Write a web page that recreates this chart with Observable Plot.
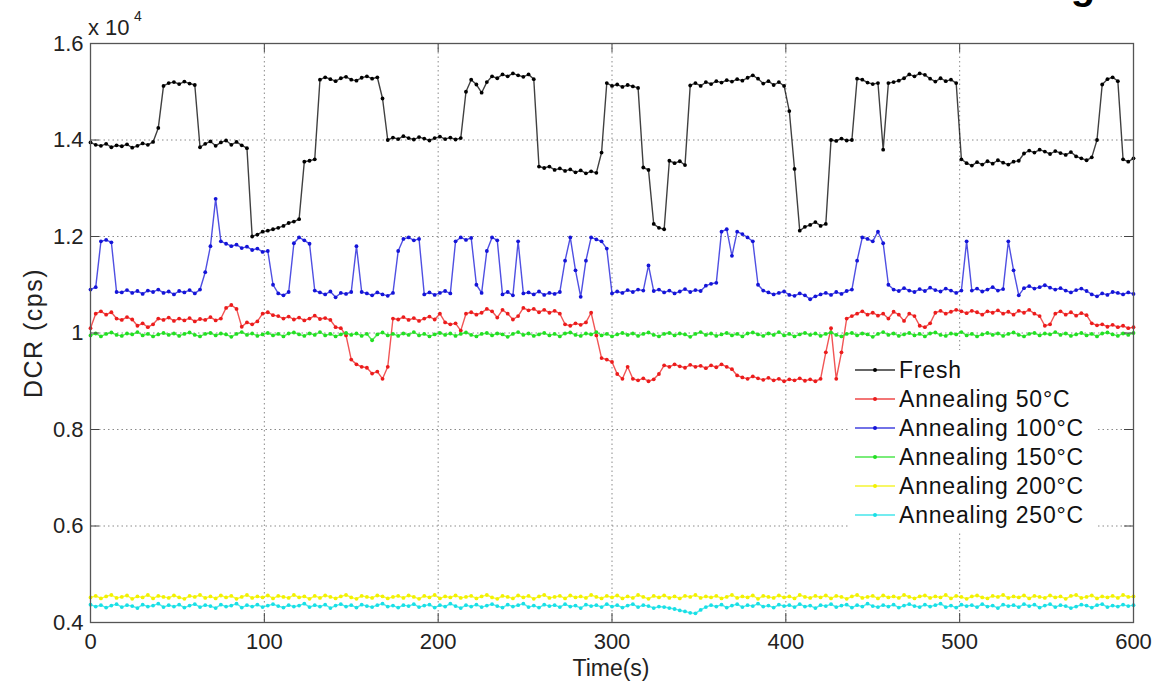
<!DOCTYPE html>
<html><head><meta charset="utf-8">
<script src="https://cdn.jsdelivr.net/npm/d3@7"></script>
<script src="https://cdn.jsdelivr.net/npm/@observablehq/plot@0.6"></script>
<style>
html,body{margin:0;padding:0;background:#fff;}
#chart{position:relative;width:1176px;height:684px;overflow:hidden;font-family:"Liberation Sans",Arial,sans-serif;}
</style></head><body><div id="chart"></div>
<script>
const seriesNames = ["Fresh","Annealing 50°C","Annealing 100°C","Annealing 150°C","Annealing 200°C","Annealing 250°C"];
const seriesColors = ["#000000","#ec1c1c","#1414d8","#22e022","#f2f200","#18e0e6"];
const times = d3.range(0, 601, 3); // sampling instants (s)

// DCR values in units of 10^4 cps, one value per sampling instant
const fresh = [
1.395,1.390,1.388,1.392,1.385,1.389,1.387,1.391,1.384,1.388,
1.393,1.390,1.396,1.425,1.512,1.518,1.520,1.516,1.521,1.517,
1.514,1.385,1.392,1.397,1.388,1.395,1.399,1.390,1.396,1.389,
1.383,1.200,1.204,1.210,1.212,1.215,1.218,1.222,1.228,1.231,
1.236,1.355,1.357,1.360,1.525,1.530,1.526,1.522,1.528,1.531,
1.525,1.523,1.529,1.532,1.527,1.530,1.486,1.400,1.405,1.402,
1.408,1.404,1.401,1.406,1.403,1.399,1.404,1.407,1.402,1.405,
1.401,1.404,1.500,1.525,1.515,1.498,1.520,1.532,1.528,1.536,
1.532,1.538,1.534,1.531,1.536,1.526,1.345,1.342,1.345,1.338,
1.341,1.336,1.339,1.333,1.337,1.331,1.335,1.332,1.374,1.518,
1.512,1.515,1.510,1.514,1.511,1.508,1.343,1.338,1.226,1.218,
1.215,1.357,1.352,1.356,1.348,1.513,1.518,1.512,1.520,1.516,
1.522,1.519,1.524,1.521,1.526,1.523,1.529,1.534,1.527,1.517,
1.522,1.514,1.520,1.512,1.460,1.340,1.212,1.220,1.224,1.230,
1.222,1.226,1.400,1.398,1.403,1.399,1.400,1.527,1.525,1.519,
1.516,1.518,1.380,1.518,1.520,1.523,1.528,1.536,1.532,1.538,
1.535,1.527,1.521,1.528,1.522,1.525,1.518,1.360,1.352,1.347,
1.354,1.349,1.356,1.351,1.358,1.353,1.349,1.355,1.357,1.372,
1.378,1.374,1.380,1.376,1.371,1.377,1.373,1.369,1.375,1.366,
1.362,1.358,1.364,1.400,1.515,1.526,1.530,1.522,1.360,1.355,
1.362];

const ann50 = [
1.010,1.040,1.045,1.038,1.043,1.030,1.027,1.033,1.028,1.015,
1.020,1.012,1.018,1.030,1.027,1.032,1.025,1.030,1.026,1.031,
1.024,1.029,1.027,1.033,1.026,1.030,1.052,1.058,1.050,1.013,
1.022,1.018,1.024,1.040,1.043,1.037,1.035,1.030,1.034,1.028,
1.032,1.026,1.030,1.036,1.029,1.031,1.027,1.012,1.010,0.995,
0.945,0.935,0.930,0.928,0.916,0.920,0.905,0.930,1.030,1.028,
1.033,1.027,1.031,1.025,1.030,1.034,1.028,1.040,1.022,1.018,
1.020,1.005,1.040,1.043,1.038,1.042,1.050,1.045,1.032,1.048,
1.040,1.028,1.035,1.052,1.047,1.050,1.043,1.048,1.042,1.046,
1.040,1.018,1.015,1.020,1.017,1.022,1.042,0.995,0.948,0.945,
0.940,0.915,0.905,0.930,0.905,0.902,0.906,0.900,0.904,0.915,
0.933,0.930,0.935,0.931,0.928,0.934,0.930,0.932,0.927,0.933,
0.929,0.935,0.930,0.925,0.912,0.908,0.905,0.910,0.906,0.903,
0.907,0.902,0.905,0.900,0.904,0.902,0.906,0.901,0.904,0.900,
0.905,0.960,1.010,0.905,0.960,1.030,1.035,1.040,1.045,1.038,
1.042,1.036,1.040,1.030,1.044,1.038,1.025,1.040,1.035,1.015,
1.012,1.020,1.042,1.046,1.040,1.044,1.048,1.045,1.041,1.046,
1.043,1.038,1.045,1.042,1.047,1.040,1.044,1.038,1.046,1.042,
1.048,1.040,1.035,1.015,1.018,1.040,1.045,1.038,1.043,1.036,
1.041,1.037,1.020,1.016,1.018,1.013,1.017,1.012,1.015,1.010,
1.012];

const ann100 = [
1.090,1.095,1.190,1.193,1.188,1.085,1.084,1.089,1.083,1.087,
1.081,1.088,1.085,1.090,1.083,1.086,1.080,1.087,1.084,1.089,
1.082,1.090,1.126,1.180,1.278,1.190,1.185,1.180,1.183,1.176,
1.179,1.172,1.175,1.168,1.170,1.100,1.082,1.078,1.085,1.186,
1.198,1.192,1.185,1.088,1.084,1.080,1.086,1.074,1.083,1.081,
1.085,1.180,1.085,1.082,1.078,1.084,1.080,1.077,1.083,1.170,
1.195,1.198,1.192,1.195,1.080,1.084,1.079,1.083,1.087,1.082,
1.190,1.198,1.193,1.197,1.100,1.083,1.170,1.198,1.192,1.080,
1.085,1.078,1.190,1.082,1.084,1.080,1.086,1.079,1.083,1.081,
1.085,1.150,1.198,1.130,1.075,1.150,1.198,1.194,1.190,1.175,
1.082,1.086,1.083,1.089,1.085,1.090,1.088,1.140,1.087,1.090,
1.084,1.088,1.082,1.086,1.091,1.085,1.089,1.087,1.098,1.102,
1.104,1.210,1.215,1.160,1.210,1.205,1.198,1.190,1.100,1.088,
1.084,1.080,1.083,1.086,1.079,1.077,1.082,1.078,1.070,1.076,
1.080,1.083,1.079,1.085,1.081,1.087,1.090,1.150,1.198,1.195,
1.190,1.210,1.186,1.100,1.090,1.087,1.093,1.088,1.085,1.091,
1.087,1.094,1.089,1.086,1.092,1.088,1.083,1.088,1.190,1.088,
1.092,1.086,1.090,1.095,1.088,1.091,1.190,1.130,1.078,1.093,
1.097,1.092,1.095,1.099,1.094,1.090,1.093,1.088,1.084,1.089,
1.092,1.087,1.080,1.076,1.082,1.079,1.085,1.083,1.080,1.084,
1.081];

const ann150 = [
0.995,0.999,0.993,0.998,1.001,0.996,0.994,0.999,0.997,1.002,0.995,0.998,0.993,0.997,1.000,0.996,0.999,0.994,0.998,1.001,
0.996,0.993,0.998,1.000,0.995,0.999,0.997,0.992,0.998,1.002,0.996,0.999,0.994,0.997,1.000,0.995,0.998,0.993,0.999,1.001,
0.997,0.994,0.999,0.996,1.002,0.995,0.998,0.993,0.997,1.000,0.996,0.999,0.994,0.998,0.985,0.997,1.001,0.995,0.998,0.994,
0.999,0.996,1.002,0.995,0.998,0.993,0.997,1.000,0.996,0.999,0.994,0.998,1.001,0.996,0.993,0.998,1.000,0.995,0.999,0.997,
0.992,0.998,1.002,0.996,0.999,0.994,0.997,1.000,0.995,0.998,0.993,0.999,1.001,0.996,0.994,0.999,0.997,1.002,0.995,0.998,
0.993,0.997,1.000,0.996,0.999,0.994,0.998,1.001,0.996,0.993,0.998,1.000,0.995,0.999,0.997,0.992,0.998,1.002,0.996,0.999,
0.994,0.997,1.000,0.995,0.998,0.993,0.999,1.001,0.997,0.994,0.999,0.996,1.002,0.995,0.998,0.993,0.997,1.000,0.996,0.999,
0.994,0.998,1.001,0.996,0.993,0.998,1.000,0.995,0.999,0.997,0.992,0.998,1.002,0.996,0.999,0.994,0.997,1.000,0.995,0.998,
0.993,0.999,1.001,0.996,0.994,0.999,0.997,1.002,0.995,0.998,0.993,0.997,1.000,0.996,0.999,0.994,0.998,1.001,0.996,0.993,
0.998,1.000,0.995,0.999,0.997,1.002,0.996,0.999,0.994,0.997,1.000,0.995,0.998,0.993,0.999,1.001,0.997,0.994,0.999,0.996,
1.000];

const ann200 = [
0.452,0.455,0.450,0.454,0.457,0.451,0.453,0.456,0.449,0.454,0.452,0.457,0.450,0.455,0.453,0.451,0.456,0.452,0.449,0.455,
0.453,0.457,0.451,0.454,0.450,0.456,0.452,0.455,0.449,0.453,0.457,0.451,0.454,0.452,0.456,0.450,0.455,0.453,0.451,0.457,
0.452,0.454,0.449,0.455,0.451,0.456,0.453,0.450,0.454,0.457,0.452,0.449,0.455,0.453,0.451,0.456,0.454,0.450,0.453,0.455,
0.451,0.456,0.453,0.449,0.455,0.452,0.457,0.450,0.454,0.452,0.456,0.451,0.453,0.455,0.450,0.454,0.457,0.452,0.449,0.455,
0.453,0.450,0.456,0.452,0.455,0.449,0.454,0.457,0.451,0.453,0.455,0.450,0.456,0.452,0.454,0.451,0.457,0.453,0.450,0.455,
0.452,0.456,0.450,0.454,0.451,0.457,0.453,0.449,0.455,0.452,0.456,0.451,0.454,0.450,0.455,0.453,0.457,0.451,0.454,0.452,
0.455,0.450,0.453,0.457,0.451,0.454,0.452,0.456,0.449,0.455,0.453,0.451,0.456,0.452,0.454,0.450,0.457,0.453,0.451,0.455,
0.452,0.456,0.450,0.455,0.453,0.449,0.454,0.457,0.451,0.453,0.455,0.450,0.456,0.452,0.454,0.451,0.457,0.453,0.450,0.454,
0.456,0.451,0.454,0.452,0.457,0.450,0.455,0.453,0.449,0.454,0.456,0.452,0.450,0.455,0.453,0.457,0.451,0.454,0.452,0.456,
0.450,0.455,0.453,0.451,0.456,0.452,0.454,0.449,0.455,0.457,0.451,0.453,0.456,0.450,0.454,0.452,0.455,0.451,0.457,0.453,
0.454];

const ann250 = [
0.437,0.433,0.436,0.431,0.435,0.438,0.432,0.436,0.434,0.430,0.437,0.433,0.435,0.439,0.432,0.436,0.433,0.437,0.431,0.435,
0.438,0.432,0.436,0.434,0.430,0.437,0.433,0.435,0.439,0.431,0.436,0.433,0.437,0.432,0.435,0.438,0.434,0.431,0.436,0.433,
0.435,0.439,0.432,0.436,0.433,0.437,0.430,0.435,0.438,0.433,0.436,0.431,0.437,0.434,0.432,0.436,0.439,0.433,0.435,0.431,
0.436,0.434,0.438,0.432,0.435,0.437,0.431,0.436,0.433,0.439,0.434,0.430,0.436,0.433,0.437,0.432,0.435,0.438,0.434,0.431,
0.437,0.433,0.436,0.439,0.432,0.435,0.431,0.437,0.434,0.436,0.432,0.438,0.433,0.435,0.430,0.437,0.434,0.436,0.432,0.438,
0.433,0.436,0.431,0.435,0.438,0.432,0.436,0.434,0.430,0.433,0.432,0.430,0.428,0.425,0.423,0.420,0.419,0.426,0.432,0.436,
0.433,0.437,0.431,0.435,0.438,0.432,0.436,0.434,0.439,0.433,0.435,0.431,0.437,0.434,0.436,0.432,0.438,0.433,0.435,0.430,
0.436,0.434,0.438,0.432,0.435,0.437,0.431,0.436,0.433,0.439,0.434,0.432,0.436,0.433,0.437,0.431,0.435,0.438,0.434,0.432,
0.437,0.433,0.436,0.439,0.432,0.435,0.431,0.437,0.434,0.436,0.432,0.438,0.433,0.435,0.430,0.437,0.434,0.436,0.432,0.438,
0.434,0.437,0.431,0.435,0.438,0.432,0.436,0.434,0.430,0.433,0.437,0.435,0.431,0.436,0.438,0.432,0.435,0.433,0.437,0.434,
0.436];

const xTicks = [0,100,200,300,400,500,600];
const yTicks = [0.4,0.6,0.8,1.0,1.2,1.4,1.6];
const yTickLabels = ["0.4","0.6","0.8","1","1.2","1.4","1.6"];
const xLabel = "Time(s)";
const yLabel = "DCR (cps)";
const yExponent = "4";

const allSeries = [fresh, ann50, ann100, ann150, ann200, ann250];
const rows = allSeries.flatMap((vals, k) => vals.map((v, i) => ({t: times[i], v, s: seriesNames[k]})));

const W = 1176, H = 684, mL = 90, mR = 43, mT = 43, mB = 62;
const tickLenX = 600 * 9 / (W - mL - mR);
const tickLenY = 1.2 * 9 / (H - mT - mB);
const FONT = '"Liberation Sans", Arial, sans-serif';

const seriesMarks = seriesNames.flatMap((name) => {
  const d = rows.filter(r => r.s === name);
  return [
    Plot.line(d, {x: "t", y: "v", stroke: "s", strokeWidth: 1.4, strokeOpacity: 0.75}),
    Plot.dot(d, {x: "t", y: "v", fill: "s", r: 1.9, stroke: null})
  ];
});

const plot = Plot.plot({
  width: W, height: H,
  marginLeft: mL, marginRight: mR, marginTop: mT, marginBottom: mB,
  style: {fontFamily: FONT, fontSize: "22px", color: "#222", background: "#fff", overflow: "visible"},
  x: {domain: [0, 600]},
  y: {domain: [0.4, 1.6]},
  color: {domain: seriesNames, range: seriesColors},
  marks: [
    Plot.gridX(xTicks.slice(1, -1), {stroke: "#8a8a8a", strokeOpacity: 1, strokeDasharray: "1.5,3"}),
    Plot.gridY(yTicks.slice(1, -1), {stroke: "#8a8a8a", strokeOpacity: 1, strokeDasharray: "1.5,3"}),
    ...seriesMarks,
    Plot.ruleX(xTicks, {y1: 0.4, y2: 0.4 + tickLenY, stroke: "#444"}),
    Plot.ruleX(xTicks, {y1: 1.6 - tickLenY, y2: 1.6, stroke: "#444"}),
    Plot.ruleY(yTicks, {x1: 0, x2: tickLenX, stroke: "#444"}),
    Plot.ruleY(yTicks, {x1: 600 - tickLenX, x2: 600, stroke: "#444"}),
    Plot.frame({stroke: "#555", strokeWidth: 1.3}),
    Plot.axisX(xTicks, {tickSize: 0, tickPadding: 11, label: null, fontSize: 22}),
    Plot.axisY(yTicks, {tickSize: 0, tickPadding: 7, label: null, fontSize: 22,
      tickFormat: d => yTickLabels[yTicks.indexOf(d)]})
  ]
});

document.getElementById("chart").appendChild(plot);
const svg = d3.select(plot);

// axis titles and the exponent marker
const ann = svg.append("g").attr("font-family", FONT).attr("fill", "#222");
ann.append("text").attr("x", 611).attr("y", 676).attr("text-anchor", "middle")
  .attr("font-size", 23).text(xLabel);
ann.append("text").attr("transform", "translate(42,333) rotate(-90)").attr("text-anchor", "middle")
  .attr("font-size", 25).attr("letter-spacing", "1.5px").text(yLabel);
ann.append("text").attr("x", 88).attr("y", 35).attr("text-anchor", "start")
  .attr("font-size", 22).text("x 10");
ann.append("text").attr("x", 134).attr("y", 21).attr("text-anchor", "start")
  .attr("font-size", 14).text(yExponent);

// Legend (MATLAB style, white box inside the axes)
const lg = svg.append("g").attr("font-family", FONT).attr("font-size", 23);
lg.append("rect").attr("x", 849).attr("y", 350).attr("width", 246).attr("height", 182).attr("fill", "#fff");
seriesNames.forEach((name, k) => {
  const y = 370 + 29 * k;
  lg.append("line").attr("x1", 855).attr("x2", 895).attr("y1", y).attr("y2", y)
    .attr("stroke", seriesColors[k]).attr("stroke-width", 1.3).attr("stroke-opacity", 0.8);
  lg.append("circle").attr("cx", 875).attr("cy", y).attr("r", 2).attr("fill", seriesColors[k]);
  lg.append("text").attr("x", 899).attr("y", y).attr("dy", "0.35em").attr("text-anchor", "start")
    .attr("letter-spacing", "0.8px").attr("fill", "#111").text(name);
});

// cropped title fragment visible at the top edge
svg.append("text").attr("x", 1083).attr("y", -1).attr("text-anchor", "middle")
  .attr("font-family", FONT).attr("font-weight", "bold").attr("font-size", 40).attr("fill", "#000").text("g");
</script>
</body></html>
